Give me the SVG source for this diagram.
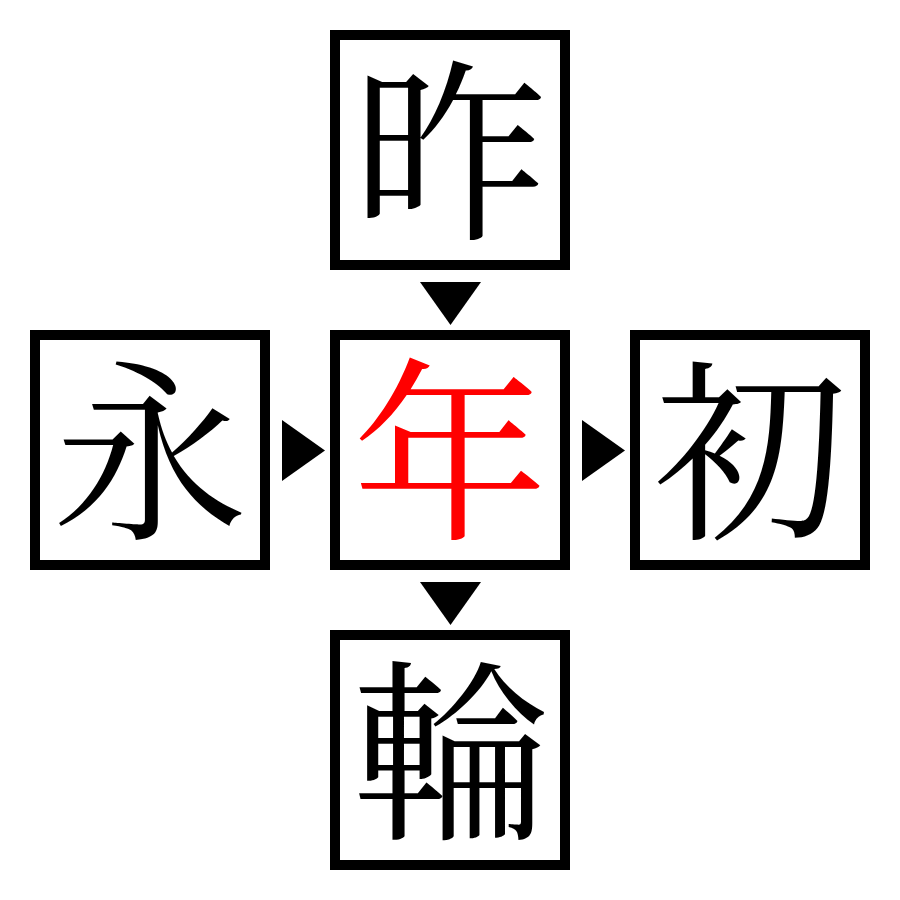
<svg xmlns="http://www.w3.org/2000/svg" width="900" height="900" viewBox="0 0 900 900">
<style>
.box{fill:#fff;stroke:#000;stroke-width:10}
.ch{font-family:"Noto Serif CJK JP","Noto Sans CJK JP",serif;font-size:195px;text-anchor:middle;fill:#000}
.red{fill:#ff0000}
.arr{fill:#000}
</style>
<rect width="900" height="900" fill="#fff"/>
<g id="node-top"><rect class="box" x="335" y="35" width="230" height="230"/><text class="ch" x="450" y="225">昨</text></g>
<g id="node-left"><rect class="box" x="35" y="335" width="230" height="230"/><text class="ch" x="150" y="525">永</text></g>
<g id="node-center"><rect class="box" x="335" y="335" width="230" height="230"/><text class="ch red" x="450" y="525">年</text></g>
<g id="node-right"><rect class="box" x="635" y="335" width="230" height="230"/><text class="ch" x="750" y="525">初</text></g>
<g id="node-bottom"><rect class="box" x="335" y="635" width="230" height="230"/><text class="ch" x="450" y="825">輪</text></g>
<g id="connectors">
<polygon class="arr" points="420,282 481,282 450.5,325"/>
<polygon class="arr" points="282,420 282,481 325,450.5"/>
<polygon class="arr" points="582,420 582,481 625,450.5"/>
<polygon class="arr" points="420,582 481,582 450.5,625"/>
</g>
</svg>
